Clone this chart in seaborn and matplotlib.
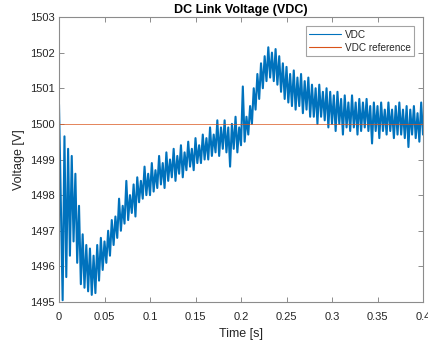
import numpy as np
import pandas as pd
import matplotlib
matplotlib.use("Agg")
import matplotlib.pyplot as plt
import seaborn as sns

# ---- data ----
sample_step_s = 0.002
vdc_values = [
    1500.55, 1497.8, 1495.05, 1499.65, 1495.7, 1499.3, 1496.3, 1499.1, 1496.7, 1498.6,
    1496.1, 1497.7, 1495.5, 1496.9, 1495.4, 1496.6, 1495.3, 1496.5, 1495.2, 1496.3,
    1495.25, 1496.6, 1495.6, 1496.8, 1495.9, 1496.7, 1496.1, 1497.0, 1496.3, 1497.3,
    1496.6, 1497.4, 1496.8, 1497.9, 1497.0, 1497.7, 1497.2, 1498.4, 1497.3, 1498.0,
    1497.5, 1498.3, 1497.4, 1498.5, 1497.8, 1498.4, 1497.9, 1498.8, 1498.0, 1498.6,
    1498.0, 1498.9, 1498.1, 1498.7, 1498.2, 1499.1, 1498.3, 1498.9, 1498.2, 1499.2,
    1498.4, 1499.0, 1498.5, 1499.3, 1498.4, 1499.1, 1498.6, 1499.4, 1498.5, 1499.2,
    1498.7, 1499.5, 1498.8, 1499.3, 1498.7, 1499.6, 1498.9, 1499.4, 1498.9, 1499.7,
    1499.0, 1499.6, 1499.0, 1499.9, 1499.1, 1499.7, 1499.2, 1500.1, 1499.1, 1499.9,
    1499.3, 1500.1, 1499.2, 1499.9, 1498.8, 1500.0, 1499.3, 1500.2, 1499.2, 1499.9,
    1499.4, 1501.05, 1499.5, 1500.2, 1499.7, 1500.5, 1500.0, 1501.0, 1500.4, 1501.4,
    1500.7, 1501.7, 1501.0, 1501.9, 1501.2, 1502.15, 1501.3, 1502.0, 1501.2, 1502.1,
    1501.1, 1501.9, 1500.9, 1501.7, 1500.7, 1501.6, 1500.6, 1501.4, 1500.5, 1501.5,
    1500.4, 1501.3, 1500.5, 1501.4, 1500.3, 1501.2, 1500.4, 1501.3, 1500.2, 1501.1,
    1500.2, 1501.0, 1500.0, 1501.1, 1500.2, 1500.9, 1500.1, 1501.0, 1499.9, 1500.9,
    1500.0, 1500.8, 1499.8, 1500.9, 1500.0, 1500.7, 1499.7, 1500.8, 1499.9, 1500.6,
    1499.8, 1500.8, 1499.9, 1500.6, 1499.7, 1500.7, 1499.8, 1500.6, 1499.9, 1500.7,
    1499.8, 1500.5, 1499.45, 1500.6, 1499.8, 1500.5, 1499.6, 1500.6, 1499.8, 1500.4,
    1499.7, 1500.6, 1499.8, 1500.4, 1499.6, 1500.5, 1499.7, 1500.6, 1499.7, 1500.4,
    1499.6, 1500.5, 1499.35, 1500.4, 1499.7, 1500.5, 1499.6, 1500.3, 1499.5, 1500.6,
    1499.7,
]
time_s = np.arange(len(vdc_values)) * sample_step_s
ref_time_s = [0.0, 0.4]
ref_values = [1500.0, 1500.0]

x_ticks = [0, 0.05, 0.1, 0.15, 0.2, 0.25, 0.3, 0.35, 0.4]
x_tick_labels = ["0", "0.05", "0.1", "0.15", "0.2", "0.25", "0.3", "0.35", "0.4"]
y_ticks = [1495, 1496, 1497, 1498, 1499, 1500, 1501, 1502, 1503]

title = "DC Link Voltage (VDC)"
x_label = "Time [s]"
y_label = "Voltage [V]"
series_names = ["VDC", "VDC reference"]

# ---- plot ----
sns.set_style("white")
plt.rcParams["font.family"] = ["Liberation Sans", "DejaVu Sans"]

fig = plt.figure(figsize=(4.28, 3.44), dpi=100)
ax = fig.add_axes([59 / 428, 1 - 302 / 344, (423 - 59) / 428, (302 - 17) / 344])

df_vdc = pd.DataFrame({"t": time_s, "v": vdc_values})
df_ref = pd.DataFrame({"t": ref_time_s, "v": ref_values})

sns.lineplot(data=df_vdc, x="t", y="v", ax=ax, color="#0072BD", linewidth=1.5,
             estimator=None, sort=False, label=series_names[0])
sns.lineplot(data=df_ref, x="t", y="v", ax=ax, color="#D95319", linewidth=0.5,
             estimator=None, sort=False, label=series_names[1])

ax.set_xlim(0, 0.4)
ax.set_ylim(1495, 1503)
ax.set_xticks(x_ticks)
ax.set_xticklabels(x_tick_labels)
ax.set_yticks(y_ticks)

tick_color = "#262626"
for side in ["left", "right", "top", "bottom"]:
    ax.spines[side].set_visible(True)
    ax.spines[side].set_color("#8c8c8c")
    ax.spines[side].set_linewidth(0.8)
ax.tick_params(axis="both", which="both", direction="in", length=3.5, width=0.7,
               color="#8c8c8c", labelsize=8, labelcolor=tick_color,
               top=True, right=True, bottom=True, left=True)
ax.tick_params(axis="x", pad=7.5)
ax.tick_params(axis="y", pad=3)

ax.set_xlabel(x_label, fontsize=9, color=tick_color, labelpad=4)
ax.set_ylabel(y_label, fontsize=9, color=tick_color, labelpad=4)
ax.set_title(title, fontsize=9, fontweight="bold", color="black", pad=3)

leg = ax.legend(loc="upper right", bbox_to_anchor=(0.975, 0.968), fontsize=7.2,
                frameon=True, fancybox=False, handlelength=3.2, borderpad=0.35,
                labelspacing=0.3, handletextpad=0.35, borderaxespad=0.0)
leg.get_frame().set_edgecolor("#8c8c8c")
leg.get_frame().set_linewidth(0.8)
for line in leg.get_lines():
    line.set_linewidth(0.8)

fig.savefig("out.png", dpi=100)
